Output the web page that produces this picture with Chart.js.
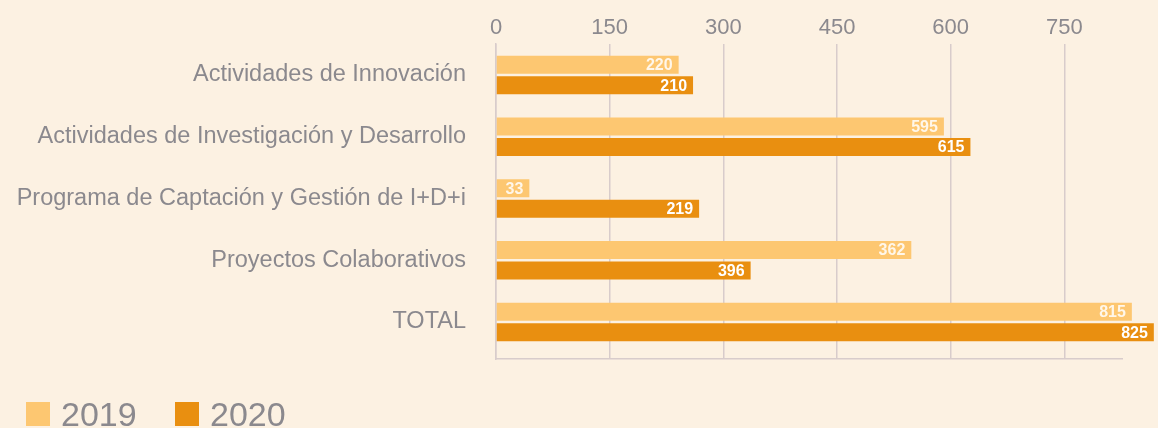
<!DOCTYPE html>
<html>
<head>
<meta charset="utf-8">
<script src="https://cdn.jsdelivr.net/npm/chart.js@4.4.1/dist/chart.umd.min.js"></script>
<style>
    body { margin: 0; background: #fcf1e2; }
    #wrap { position: relative; width: 1158px; height: 428px; overflow: hidden; }
    #legend { position: absolute; left: 26px; top: 396px; display: flex; font-family: "Liberation Sans", Arial, sans-serif; }
    .item { display: flex; align-items: center; width: 149px; }
    .box { width: 24px; height: 24px; margin-right: 11px; }
    .txt { font-size: 34px; color: #8b898e; line-height: 36px; }
</style>
</head>
<body>
<div id="wrap">
    <canvas id="chart"></canvas>
    <div id="legend"></div>
</div>
<script>
// categories
const categories = [
    "Actividades de Innovación",
    "Actividades de Investigación y Desarrollo",
    "Programa de Captación y Gestión de I+D+i",
    "Proyectos Colaborativos",
    "TOTAL"
];
// bar lengths as drawn in the picture
const bars2019 = [241, 591, 44, 548, 839];
const bars2020 = [260, 626, 268, 336, 868];
// numbers printed on the bars
const shown2019 = [220, 595, 33, 362, 815];
const shown2020 = [210, 615, 219, 396, 825];
const xTicks = [0, 150, 300, 450, 600, 750];

const grey = '#8b898e';
const gridCol = '#d8cccb';
const font = "'Liberation Sans', Arial, sans-serif";

// white numbers at the end of each bar
const barText = {
    id: 'barText',
    afterDatasetsDraw(chart) {
        const ctx = chart.ctx;
        ctx.save();
        ctx.font = "bold 16px " + font;
        ctx.textAlign = 'right';
        ctx.textBaseline = 'middle';
        chart.data.datasets.forEach((ds, i) => {
            const meta = chart.getDatasetMeta(i);
            meta.data.forEach((bar, j) => {
                ctx.fillStyle = i === 0 ? 'rgba(255,255,255,0.85)' : '#ffffff';
                ctx.fillText(ds.shown[j], bar.x - 6, bar.y + 1);
            });
        });
        ctx.restore();
    }
};

const chart = new Chart(document.getElementById('chart'), {
    type: 'bar',
    data: {
        labels: categories,
        datasets: [
            { label: '2019', data: bars2019, shown: shown2019, backgroundColor: '#fdc771' },
            { label: '2020', data: bars2020, shown: shown2020, backgroundColor: '#e98f10' }
        ]
    },
    options: {
        indexAxis: 'y',
        responsive: true, maintainAspectRatio: false,
        animation: false,
        layout: { padding: { top: 0, right: 36, bottom: 69, left: 0 } },
        datasets: { bar: { categoryPercentage: 0.665, barPercentage: 0.88, clip: false } },
        plugins: { legend: { display: false }, tooltip: { enabled: false } },
        scales: {
            x: {
                position: 'top',
                min: 0, max: 826,
                afterBuildTicks: s => { s.ticks = xTicks.map(v => ({ value: v })); },
                afterFit: s => { s.height = 42; },
                ticks: { color: grey, font: { family: font, size: 22 }, padding: 3 },
                grid: { color: gridCol, lineWidth: 1.5, drawTicks: false },
                border: { display: false }
            },
            x2: {
                position: 'bottom',
                min: 0, max: 826,
                afterFit: s => { s.height = 0; },
                ticks: { display: false },
                grid: { display: false, drawTicks: false },
                border: { color: gridCol, width: 1.5 }
            },
            y: {
                // a little empty room under TOTAL, as in the picture
                afterBuildTicks: s => { s._valueRange = categories.length + 0.1; },
                afterFit: s => { s.width = 496; },
                ticks: { color: grey, font: { family: font, size: 23.5 }, padding: 30 },
                grid: { display: false, drawTicks: false },
                border: { color: gridCol, width: 1.5 }
            }
        }
    },
    plugins: [barText]
});

// legend built from the datasets
const legend = document.getElementById('legend');
chart.data.datasets.forEach(ds => {
    const item = document.createElement('div');
    item.className = 'item';
    item.innerHTML = '<div class="box" style="background:' + ds.backgroundColor + '"></div><span class="txt">' + ds.label + '</span>';
    legend.appendChild(item);
});
</script>
</body>
</html>
